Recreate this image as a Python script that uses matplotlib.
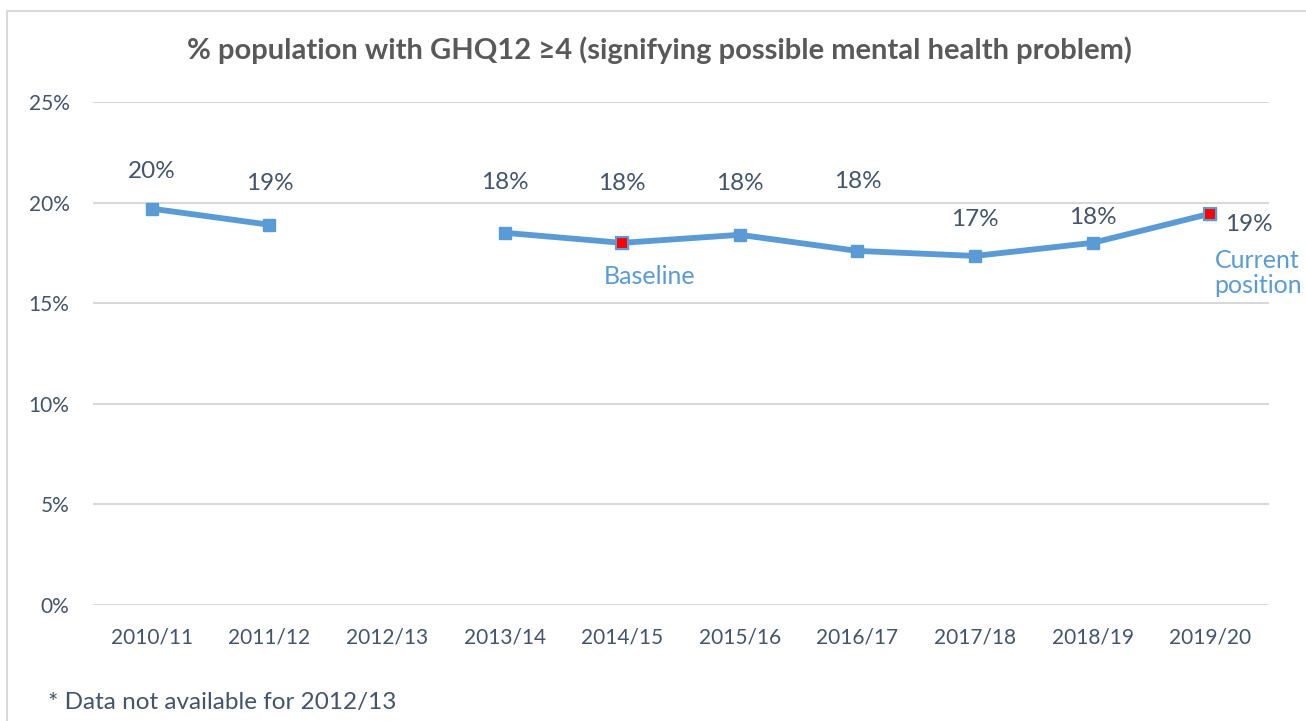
import numpy as np
import matplotlib
matplotlib.use("Agg")
import matplotlib.pyplot as plt
from matplotlib.lines import Line2D

# Chart data
years = ["2010/11", "2011/12", "2012/13", "2013/14", "2014/15",
         "2015/16", "2016/17", "2017/18", "2018/19", "2019/20"]
values = [19.7, 18.9, np.nan, 18.5, 18.0, 18.4, 17.6, 17.35, 18.0, 19.45]
labels = ["20%", "19%", "", "18%", "18%", "18%", "18%", "17%", "18%", "19%"]
# label offsets (points) from each marker, placed by hand like the original
label_dx = [0, 0, 0, 0, 0, 0, 0, 0, 0, 28]
label_dy = [27, 30, 0, 36, 43, 37, 50, 26, 18, -8]
highlight = [4, 9]  # baseline and current position
yticks = [0, 5, 10, 15, 20, 25]

blue = "#5B9BD5"
slate = "#44546A"
grid = "#D9D9D9"

plt.rcParams["font.family"] = ["Lato", "DejaVu Sans"]

fig = plt.figure(figsize=(13.06, 7.21), dpi=100)
ax = fig.add_axes([0.0712, 0.1609, 0.9005, 0.6976])

x = np.arange(len(years))
ax.plot(x, values, color=blue, lw=4.2, marker="s", ms=8.5,
        mfc=blue, mec=blue, zorder=3)
ax.plot(x[highlight], np.array(values)[highlight], ls="none", marker="s",
        ms=8.5, mfc="red", mec=blue, mew=1.5, zorder=4)

for i, (v, lab) in enumerate(zip(values, labels)):
    if lab:
        ax.annotate(lab, (i, v), xytext=(label_dx[i], label_dy[i]),
                    textcoords="offset points", ha="center", va="center",
                    fontsize=17.5, color=slate)

ax.annotate("Baseline", (4, values[4]), xytext=(20, -24),
            textcoords="offset points", ha="center", va="center",
            fontsize=18, color=blue)
ax.annotate("Current\nposition", (9, values[9]), xytext=(3, -43),
            textcoords="offset points", ha="left", va="center",
            fontsize=18, color=blue, linespacing=1.1)

ax.set_xlim(-0.5, len(years) - 0.5)
ax.set_ylim(0, 25)
ax.set_yticks(yticks)
ax.set_yticklabels([f"{t}%" for t in yticks])
ax.set_xticks(x)
ax.set_xticklabels(years)
ax.tick_params(axis="both", length=0, labelsize=15, labelcolor=slate)
ax.tick_params(axis="y", pad=17)
ax.tick_params(axis="x", pad=16)
ax.grid(axis="y", color=grid, lw=1.5)
ax.set_axisbelow(True)
for s in ax.spines.values():
    s.set_visible(False)

fig.text(0.505, 0.931, "% population with GHQ12 \u22654 (signifying possible mental health problem)",
         ha="center", va="center", fontsize=21, fontweight="bold", color="#595959")
fig.text(0.037, 0.025, "* Data not available for 2012/13", ha="left", va="center",
         fontsize=17.5, color=slate)

# chart border (top and left edges visible)
fig.add_artist(Line2D([0.0054, 1.0], [0.985, 0.985], color=grid, lw=1.5))
fig.add_artist(Line2D([0.0054, 0.0054], [0.0, 0.985], color=grid, lw=1.5))

fig.savefig("out.png", dpi=100)
